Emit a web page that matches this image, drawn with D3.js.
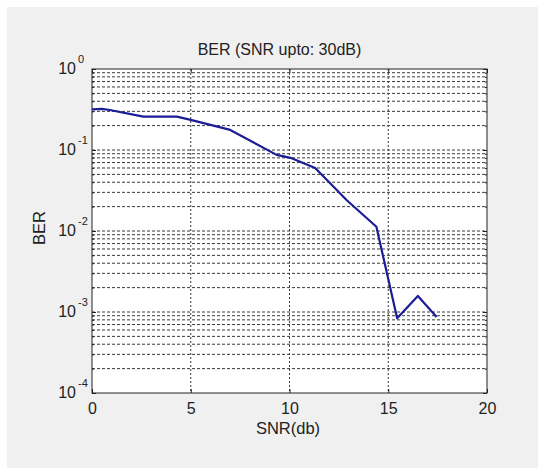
<!DOCTYPE html>
<html>
<head>
<meta charset="utf-8">
<script src="https://cdn.jsdelivr.net/npm/d3@7"></script>
<style>
body { margin: 0; background: #fff; }
text { font-family: Arial, "Liberation Sans", sans-serif; fill: #222; }
</style>
</head>
<body>
<div id="chart"></div>
<script>
// values
var snr = [0, 0.5, 0.9, 2.6, 4.3, 5, 7, 9.35, 10.05, 11.3, 12.9, 14.4, 15.45, 16.5, 17.45];
var ber = [0.318, 0.322, 0.312, 0.258, 0.258, 0.235, 0.177, 0.087, 0.080, 0.060, 0.024, 0.0113, 0.00084, 0.00158, 0.00087];
var xTicks = [0, 5, 10, 15, 20];
var yExps = [0, -1, -2, -3, -4];

var width = 538;
var height = 468;
var plotL = 92, plotR = 487, plotT = 69, plotB = 393;

var svg = d3.select("#chart")
  .append("svg")
  .attr("width", width)
  .attr("height", height);

// figure background
svg.append("rect")
  .attr("x", 7).attr("y", 7)
  .attr("width", width - 7).attr("height", height - 7)
  .attr("fill", "#f0f0f0");

svg.append("rect")
  .attr("x", plotL).attr("y", plotT)
  .attr("width", plotR - plotL).attr("height", plotB - plotT)
  .attr("fill", "#fff");

var xScale = d3.scaleLinear().domain([0, 20]).range([plotL, plotR]);
var yScale = d3.scaleLog().domain([1e-4, 1]).range([plotB, plotT]);

// minor + major log grid values
var yGrid = [];
yExps.forEach(function(e) {
  if (e === 0) return;
  for (var k = 1; k <= 9; k++) yGrid.push(k * Math.pow(10, e));
});
yGrid.push(1);

var grid = svg.append("g").attr("class", "grid");

grid.selectAll(".hg")
  .data(yGrid.filter(function(v) { return v > 1e-4 && v < 1; }))
  .enter().append("line")
  .attr("x1", plotL).attr("x2", plotR)
  .attr("y1", function(d) { return yScale(d); })
  .attr("y2", function(d) { return yScale(d); })
  .attr("stroke", "#3a3a3a")
  .attr("stroke-width", 1)
  .attr("stroke-dasharray", "3,2");

grid.selectAll(".vg")
  .data(xTicks.filter(function(v) { return v > 0 && v < 20; }))
  .enter().append("line")
  .attr("y1", plotT).attr("y2", plotB)
  .attr("x1", function(d) { return xScale(d); })
  .attr("x2", function(d) { return xScale(d); })
  .attr("stroke", "#3a3a3a")
  .attr("stroke-width", 1)
  .attr("stroke-dasharray", "2,2");

// inside ticks on all four sides
var xAxisB = d3.axisBottom(xScale).tickValues(xTicks).tickSizeInner(-4).tickSizeOuter(0).tickPadding(10);
svg.append("g")
  .attr("transform", "translate(0," + plotB + ")")
  .call(xAxisB)
  .call(function(g) {
    g.select(".domain").remove();
    g.selectAll("text").attr("font-size", 16).attr("fill", "#222");
    g.selectAll("line").attr("stroke", "#222");
  });

svg.append("g")
  .attr("transform", "translate(0," + plotT + ")")
  .call(d3.axisTop(xScale).tickValues(xTicks).tickSizeInner(-4).tickSizeOuter(0).tickFormat(""))
  .call(function(g) {
    g.select(".domain").remove();
    g.selectAll("line").attr("stroke", "#222");
  });

var yTickVals = yGrid.filter(function(v) { return v >= 1e-4 && v <= 1; });
[plotL, plotR].forEach(function(px, i) {
  var ax = (i === 0 ? d3.axisLeft(yScale) : d3.axisRight(yScale))
    .tickValues(yTickVals)
    .tickSizeOuter(0)
    .tickFormat("");
  svg.append("g")
    .attr("transform", "translate(" + px + ",0)")
    .call(ax)
    .call(function(g) {
      g.select(".domain").remove();
      g.selectAll(".tick line")
        .attr("x2", function(d) {
          var major = Math.abs(Math.log10(d) - Math.round(Math.log10(d))) < 1e-9;
          var len = major ? 4 : 2;
          return i === 0 ? len : -len;
        })
        .attr("stroke", "#222");
    });
});

// y labels 10^n
var yLab = svg.append("g").attr("class", "ylabels");
yExps.forEach(function(e) {
  yLab.append("text")
    .attr("x", 76)
    .attr("y", yScale(Math.pow(10, e)) + 5)
    .attr("text-anchor", "end")
    .attr("font-size", 16)
    .text("10");
  yLab.append("text")
    .attr("x", 78)
    .attr("y", yScale(Math.pow(10, e)) - 6)
    .attr("font-size", 11)
    .text(String(e));
});

// box
svg.append("rect")
  .attr("x", plotL).attr("y", plotT)
  .attr("width", plotR - plotL).attr("height", plotB - plotT)
  .attr("fill", "none")
  .attr("stroke", "#222")
  .attr("stroke-width", 1);

// data line
var line = d3.line()
  .x(function(d, i) { return xScale(snr[i]); })
  .y(function(d) { return yScale(d); });

svg.append("path")
  .datum(ber)
  .attr("d", line)
  .attr("fill", "none")
  .attr("stroke", "#1c1c96")
  .attr("stroke-width", 2.2)
  .attr("stroke-linejoin", "round");

// title and axis labels
svg.append("text")
  .attr("x", (plotL + plotR) / 2 - 10)
  .attr("y", 55)
  .attr("text-anchor", "middle")
  .attr("font-size", 16)
  .text("BER (SNR upto: 30dB)");

svg.append("text")
  .attr("x", 288)
  .attr("y", 434)
  .attr("text-anchor", "middle")
  .attr("font-size", 16.5)
  .text("SNR(db)");

svg.append("text")
  .attr("transform", "translate(45,228)rotate(-90)")
  .attr("text-anchor", "middle")
  .attr("font-size", 16.5)
  .text("BER");
</script>
</body>
</html>
